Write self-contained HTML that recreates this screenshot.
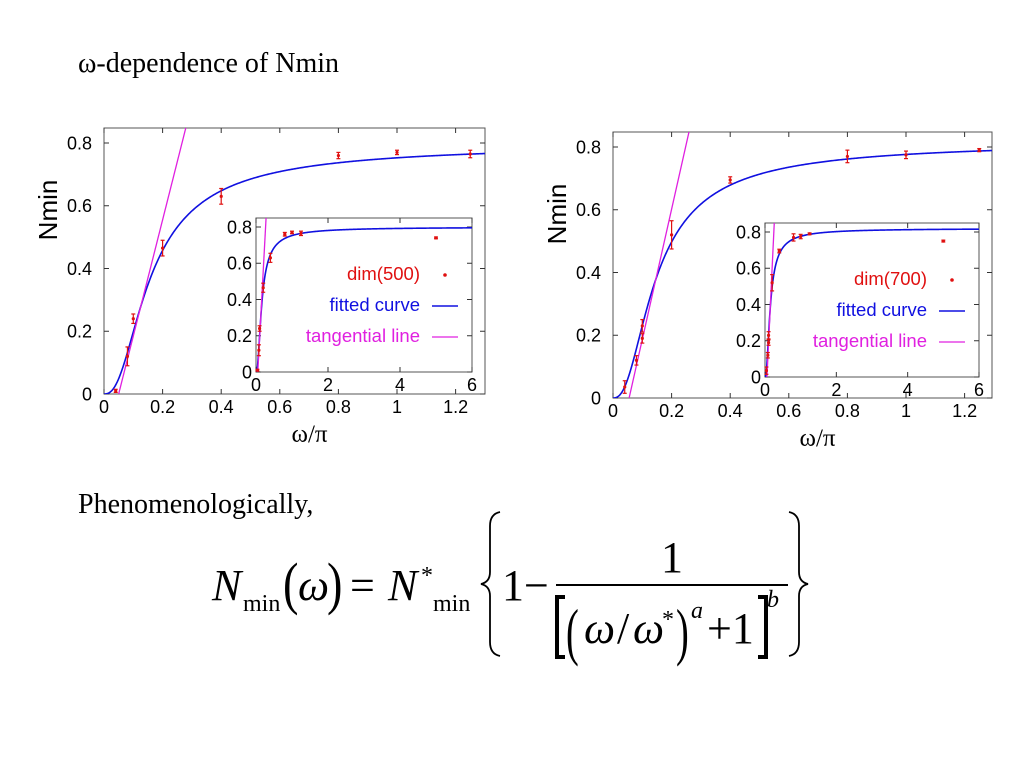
<!DOCTYPE html>
<html><head><meta charset="utf-8"><style>
html,body{margin:0;padding:0;background:#fff;}
svg{display:block;}
.t{font-family:"Liberation Serif",serif;}
.s{font-family:"Liberation Sans",sans-serif;}
</style></head><body>
<svg id="root" width="1024" height="768" viewBox="0 0 1024 768" xmlns="http://www.w3.org/2000/svg">
<text class="t" x="78" y="72" font-size="28">ω-dependence of Nmin</text>
<text class="t" x="78" y="513" font-size="28">Phenomenologically,</text>
<g id="formula" class="t">
<text x="212" y="600" font-size="44" font-style="italic">N</text>
<text x="243" y="611" font-size="24">min</text>
<text x="283" y="603" font-size="58" transform="scale(0.8,1)" transform-origin="283 603">(</text>
<text x="298" y="600" font-size="44" font-style="italic">ω</text>
<text x="327" y="603" font-size="58" transform="scale(0.8,1)" transform-origin="327 603">)</text>
<text x="350" y="600" font-size="44">=</text>
<text x="388" y="600" font-size="44" font-style="italic">N</text>
<text x="421" y="583" font-size="24">*</text>
<text x="433" y="611" font-size="24">min</text>
<path d="M500 512 Q490 514 490 526 L490 572 Q490 582 481 584 Q490 586 490 596 L490 642 Q490 654 500 656" fill="none" stroke="#000" stroke-width="1.8"/>
<text x="502" y="600" font-size="44">1−</text>
<text x="661" y="572" font-size="44">1</text>
<line x1="556" y1="585" x2="788" y2="585" stroke="#000" stroke-width="2"/>
<path d="M565 597 L557 597 L557 657 L565 657" fill="none" stroke="#000" stroke-width="4"/>
<path d="M758 597 L766 597 L766 657 L758 657" fill="none" stroke="#000" stroke-width="4"/>
<text x="566" y="653" font-size="64" transform="scale(0.6,1)" transform-origin="566 653">(</text>
<text x="584" y="643" font-size="44" font-style="italic">ω</text>
<text x="617" y="643" font-size="44">/</text>
<text x="633" y="643" font-size="44" font-style="italic">ω</text>
<text x="662" y="627" font-size="24">*</text>
<text x="676" y="653" font-size="64" transform="scale(0.6,1)" transform-origin="676 653">)</text>
<text x="691" y="618" font-size="24" font-style="italic">a</text>
<text x="707" y="643" font-size="44">+1</text>
<text x="767" y="607" font-size="24" font-style="italic">b</text>
<path d="M789 512 Q799 514 799 526 L799 572 Q799 582 808 584 Q799 586 799 596 L799 642 Q799 654 789 656" fill="none" stroke="#000" stroke-width="1.8"/>
</g>
<g id="charts"></g>
</svg>
<script>
var NS="http://www.w3.org/2000/svg";
// Left chart data (dim 500)
var leftX=[0.04,0.08,0.1,0.2,0.4,0.8,1.0,1.25,5.0];
var leftY=[0.01,0.12,0.24,0.465,0.63,0.76,0.77,0.765,0.74];
var leftErr=[0.005,0.03,0.015,0.025,0.025,0.01,0.007,0.012,0.005];
var leftFit=[0.8,0.1136,2.5,0.52]; // Nstar, wstar, a, b
var leftTan=[0.05,3.7]; // x-intercept, slope
// Right chart data (dim 700)
var rightX=[0.04,0.08,0.1,0.1,0.2,0.4,0.8,1.0,1.25,5.0];
var rightY=[0.035,0.12,0.19,0.23,0.52,0.695,0.77,0.775,0.79,0.75];
var rightErr=[0.02,0.015,0.015,0.02,0.045,0.01,0.02,0.012,0.005,0.005];
var rightFit=[0.82,0.105,2.5,0.52];
var rightTan=[0.055,4.15];
var mainXTicks=[0,0.2,0.4,0.6,0.8,1,1.2];
var mainYTicks=[0,0.2,0.4,0.6,0.8];
var insetXTicks=[0,2,4,6];
var insetYTicks=[0,0.2,0.4,0.6,0.8];

function el(tag,attrs,parent){var e=document.createElementNS(NS,tag);for(var k in attrs)e.setAttribute(k,attrs[k]);parent.appendChild(e);return e;}
function fitF(p,w){return p[0]*(1-1/Math.pow(Math.pow(w/p[1],p[2])+1,p[3]));}

function panel(g,L,R,T,B,xmax,ymax,xt,yt,xs,ys,errs,fit,tan,fs,inset,lab){
  var sx=function(v){return L+(R-L)*v/xmax;};
  var sy=function(v){return B-(B-T)*v/ymax;};
  var frame=el('rect',{x:L,y:T,width:R-L,height:B-T,fill:'#fff',stroke:'#555','stroke-width':1},g);
  
  
  xt.forEach(function(v){
    var x=sx(v);
    el('line',{x1:x,y1:B,x2:x,y2:B-5,stroke:'#333'},g);el('line',{x1:x,y1:T,x2:x,y2:T+5,stroke:'#333'},g);
    var t=el('text',{x:x,y:B+fs+1,'font-size':fs,'text-anchor':'middle',class:'s'},g);t.textContent=String(v);
    
    
  });
  yt.forEach(function(v){
    var y=sy(v);
    el('line',{x1:L,y1:y,x2:L+5,y2:y,stroke:'#333'},g);el('line',{x1:R,y1:y,x2:R-5,y2:y,stroke:'#333'},g);
    var t=el('text',{x:L-(inset?4:12),y:y+fs*0.36,'font-size':fs,'text-anchor':'end',class:'s'},g);t.textContent=String(v);
    
    
  });
  var cp=el('clipPath',{id:'c'+L+'_'+T},g);el('rect',{x:L,y:T,width:R-L,height:B-T},cp);
  var d='';for(var i=0;i<=400;i++){var w=xmax*i/400;d+=(i?'L':'M')+sx(w).toFixed(2)+' '+sy(fitF(fit,w)).toFixed(2);}
  var c=el('path',{d:d,fill:'none',stroke:'#1010e0','stroke-width':1.6,'clip-path':'url(#c'+L+'_'+T+')'},g);
  
  
  var x2=tan[0]+ymax*1.05/tan[1];
  var tl=el('line',{x1:sx(tan[0]),y1:sy(0),x2:sx(x2),y2:sy(ymax*1.05),stroke:'#e020e0','stroke-width':1.3,'clip-path':'url(#c'+L+'_'+T+')'},g);
  
  
  for(var j=0;j<xs.length;j++){
    if(xs[j]>xmax)continue;
    var px=sx(xs[j]),py=sy(ys[j]),e=(B-T)*errs[j]/ymax;
    var pg=el('g',{stroke:'#e01010','stroke-width':1.2},g);
    
    
    el('line',{x1:px,y1:py-e,x2:px,y2:py+e},pg);
    el('line',{x1:px-2,y1:py-e,x2:px+2,y2:py-e},pg);
    el('line',{x1:px-2,y1:py+e,x2:px+2,y2:py+e},pg);
    el('circle',{cx:px,cy:py,r:1.6,fill:'#e01010',stroke:'none'},pg);
  }
  if(inset){
    var lx=R-40;
    var items=[['dim('+lab+')','#e01010'],['fitted curve','#1010e0'],['tangential line','#e020e0']];
    items.forEach(function(it,k){
      var y=T+62+k*31;
      var t=el('text',{x:lx-12,y:y,'font-size':18.5,'text-anchor':'end',fill:it[1],class:'s'},g);t.textContent=it[0];
      
      
      if(k==0)el('circle',{cx:lx+13,cy:y-5,r:1.8,fill:it[1]},g);
      else el('line',{x1:lx,y1:y-5,x2:lx+26,y2:y-5,stroke:it[1],'stroke-width':k==1?1.6:1.3},g);
    });
  }
}
function chart(name,L,R,T,B,iL,iR,iT,iB,xs,ys,errs,fit,tan,lab){
  var g=el('g',{},document.getElementById('charts'));
  
  
  panel(g,L,R,T,B,(R-L)/293,(B-T)/313.75,mainXTicks,mainYTicks,xs,ys,errs,fit,tan,18,false,lab);
  var t=el('text',{x:(L+R)/2+15,y:B+48,'font-size':25,'text-anchor':'middle',class:'t'},g);t.textContent='ω/π';
  
  
  var yl=el('text',{x:0,y:0,'font-size':26,'text-anchor':'middle',class:'s',transform:'translate('+(L-47)+','+(T+82)+') rotate(-90)'},g);yl.textContent='Nmin';
  
  
  panel(g,iL,iR,iT,iB,6,(iB-iT)/((iB-iT-9)/0.8)*1.0,insetXTicks,insetYTicks,xs,ys,errs,fit,tan,18,true,lab);
}
chart('left-chart',104,485,128,394,256,472,218,372,leftX,leftY,leftErr,leftFit,leftTan,'500');
chart('right-chart',613,992,132,398,765,979,223,377,rightX,rightY,rightErr,rightFit,rightTan,'700');
</script>
</body></html>
